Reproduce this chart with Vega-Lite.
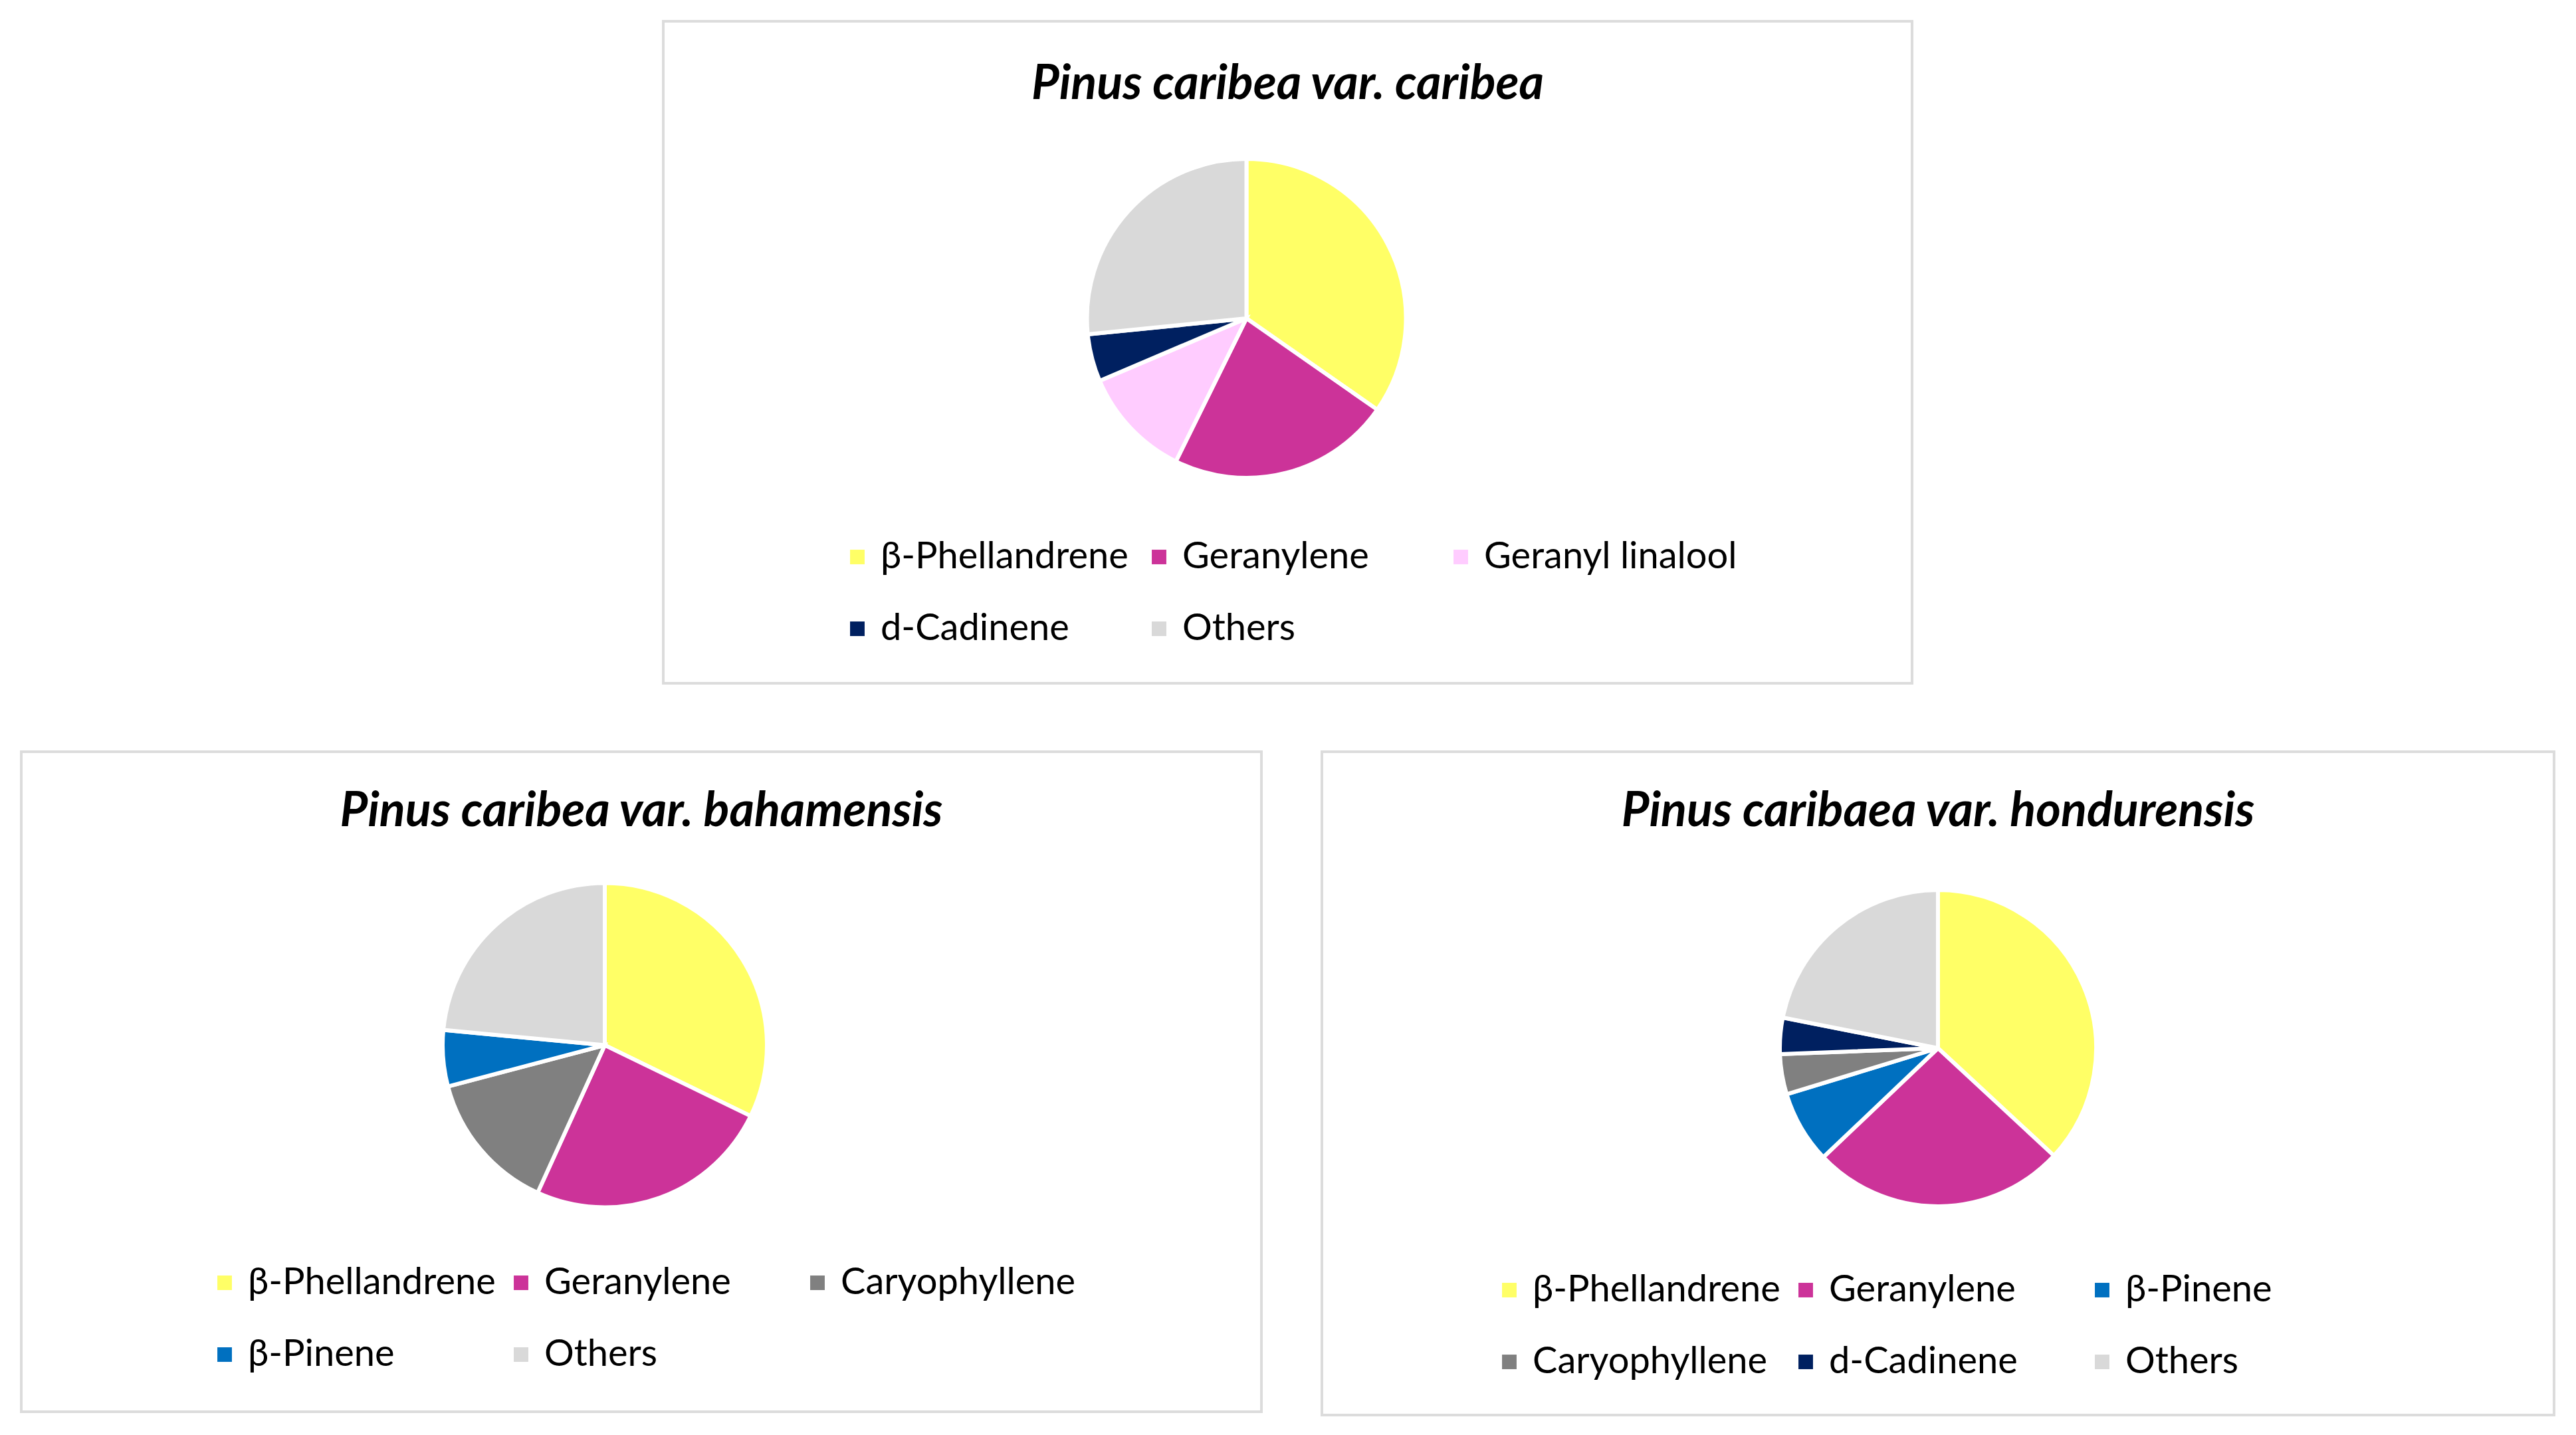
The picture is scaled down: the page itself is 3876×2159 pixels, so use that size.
{
  "$schema": "https://vega.github.io/schema/vega-lite/v6.json",
  "padding": {"left": 30, "top": 30, "right": 0, "bottom": 0},
  "background": "white",
  "config": {
    "view": {"stroke": "#dcdcdc", "strokeWidth": 4},
    "title": {"font": "Lato", "fontSize": 72, "fontWeight": "bold", "fontStyle": "italic", "color": "black", "anchor": "middle", "frame": "group", "offset": -127},
    "legend": {"orient": "none", "direction": "horizontal", "columns": 3, "title": null, "symbolType": "square", "symbolSize": 480, "symbolStrokeWidth": 0, "labelFont": "Lato", "labelFontSize": 56, "labelColor": "black", "gridAlign": "all", "columnPadding": 10, "rowPadding": 52, "labelOffset": 7, "labelLimit": 1000}
  },
  "data": {"values": [
    {"panel": "caribea", "compound": "β-Phellandrene", "pct": 34.7},
    {"panel": "caribea", "compound": "Geranylene", "pct": 22.6},
    {"panel": "caribea", "compound": "Geranyl linalool", "pct": 11.3},
    {"panel": "caribea", "compound": "d-Cadinene", "pct": 4.8},
    {"panel": "caribea", "compound": "Others", "pct": 26.6},
    {"panel": "bahamensis", "compound": "β-Phellandrene", "pct": 32.2},
    {"panel": "bahamensis", "compound": "Geranylene", "pct": 24.6},
    {"panel": "bahamensis", "compound": "Caryophyllene", "pct": 14.1},
    {"panel": "bahamensis", "compound": "β-Pinene", "pct": 5.6},
    {"panel": "bahamensis", "compound": "Others", "pct": 23.5},
    {"panel": "hondurensis", "compound": "β-Phellandrene", "pct": 36.9},
    {"panel": "hondurensis", "compound": "Geranylene", "pct": 26.0},
    {"panel": "hondurensis", "compound": "β-Pinene", "pct": 7.4},
    {"panel": "hondurensis", "compound": "Caryophyllene", "pct": 4.1},
    {"panel": "hondurensis", "compound": "d-Cadinene", "pct": 3.7},
    {"panel": "hondurensis", "compound": "Others", "pct": 21.9}
  ]},
  "spacing": 99,
  "center": true,
  "resolve": {"scale": {"color": "independent", "theta": "independent"}, "legend": {"color": "independent"}},
  "vconcat": [
    {
      "width": 1879, "height": 996,
      "view": {"stroke": "#dcdcdc", "strokeWidth": 4},
      "title": {"text": "Pinus caribea var. caribea", "offset": -132},
      "transform": [{"filter": "datum.panel === 'caribea'"}, {"window": [{"op": "row_number", "as": "k"}]}],
      "mark": {"type": "arc", "radius": 240, "stroke": "white", "strokeWidth": 6, "xOffset": -62, "yOffset": -51},
      "encoding": {
        "theta": {"field": "pct", "type": "quantitative", "stack": true},
        "order": {"field": "k", "type": "quantitative"},
        "color": {"field": "compound", "type": "nominal",
          "scale": {"domain": ["β-Phellandrene", "Geranylene", "Geranyl linalool", "d-Cadinene", "Others"], "range": ["#ffff66", "#cc3399", "#ffccff", "#002060", "#d9d9d9"]},
          "legend": {"legendX": 264, "legendY": 778}}
      }
    },
    {
      "spacing": 87,
      "resolve": {"scale": {"color": "independent", "theta": "independent"}, "legend": {"color": "independent"}},
      "hconcat": [
        {
          "width": 1866, "height": 993,
          "view": {"stroke": "#dcdcdc", "strokeWidth": 4},
          "title": {"text": "Pinus caribea var. bahamensis"},
          "transform": [{"filter": "datum.panel === 'bahamensis'"}, {"window": [{"op": "row_number", "as": "k"}]}],
          "mark": {"type": "arc", "radius": 244, "stroke": "white", "strokeWidth": 6, "xOffset": -55, "yOffset": -55},
          "encoding": {
            "theta": {"field": "pct", "type": "quantitative", "stack": true},
            "order": {"field": "k", "type": "quantitative"},
            "color": {"field": "compound", "type": "nominal",
              "scale": {"domain": ["β-Phellandrene", "Geranylene", "Caryophyllene", "β-Pinene", "Others"], "range": ["#ffff66", "#cc3399", "#808080", "#0070c0", "#d9d9d9"]},
              "legend": {"legendX": 278, "legendY": 771}}
          }
        },
        {
          "width": 1854, "height": 998,
          "view": {"stroke": "#dcdcdc", "strokeWidth": 4},
          "title": {"text": "Pinus caribaea var. hondurensis"},
          "transform": [{"filter": "datum.panel === 'hondurensis'"}, {"window": [{"op": "row_number", "as": "k"}]}],
          "mark": {"type": "arc", "radius": 238, "stroke": "white", "strokeWidth": 6, "xOffset": 0, "yOffset": -53},
          "encoding": {
            "theta": {"field": "pct", "type": "quantitative", "stack": true},
            "order": {"field": "k", "type": "quantitative"},
            "color": {"field": "compound", "type": "nominal",
              "scale": {"domain": ["β-Phellandrene", "Geranylene", "β-Pinene", "Caryophyllene", "d-Cadinene", "Others"], "range": ["#ffff66", "#cc3399", "#0070c0", "#808080", "#002060", "#d9d9d9"]},
              "legend": {"legendX": 254, "legendY": 782}}
          }
        }
      ]
    }
  ]
}
